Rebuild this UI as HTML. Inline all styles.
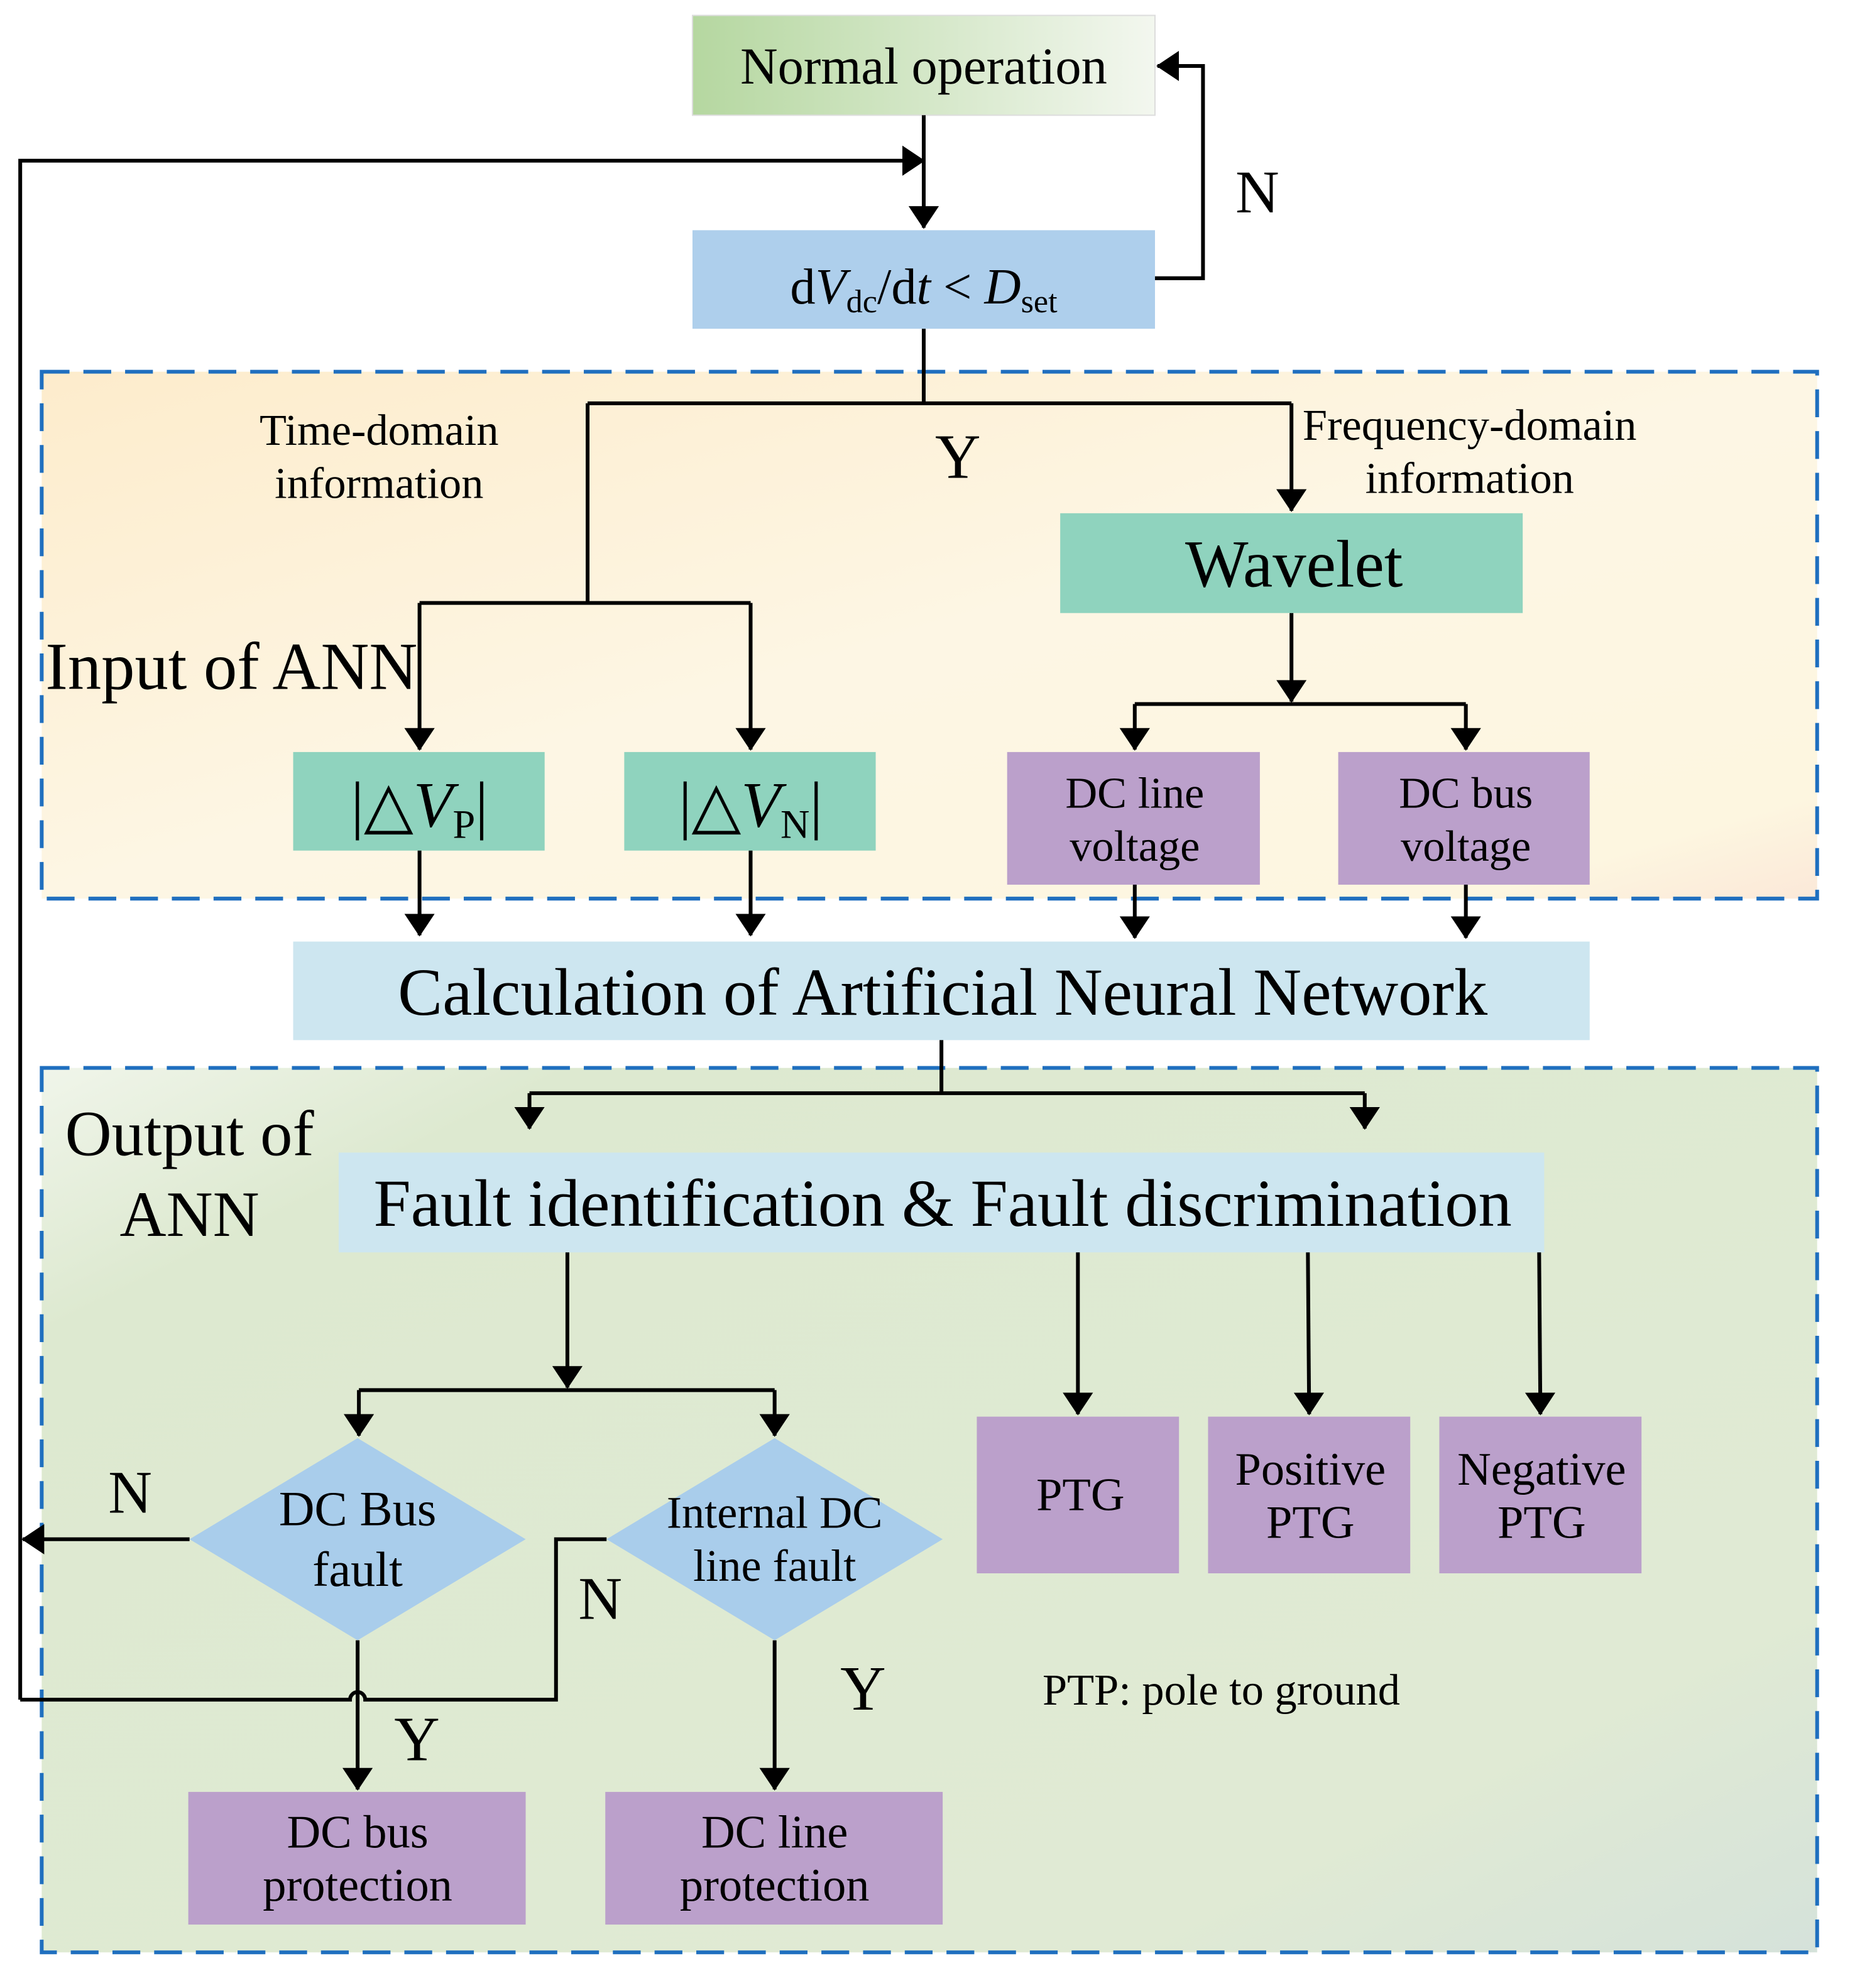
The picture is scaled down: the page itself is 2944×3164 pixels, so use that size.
<!DOCTYPE html>
<html><head><meta charset="utf-8"><style>html,body{margin:0;padding:0;background:#fff}svg{display:block}text{font-family:"Liberation Serif",serif;fill:#000}</style></head><body>
<svg width="2944" height="3164" viewBox="0 0 1464 1573" xmlns="http://www.w3.org/2000/svg">
<defs>
<linearGradient id="gN" x1="0" y1="0" x2="1" y2="0"><stop offset="0" stop-color="#b5d7a0"/><stop offset="1" stop-color="#f3f7ef"/></linearGradient>
<linearGradient id="gI" x1="0" y1="0" x2="1" y2="1"><stop offset="0" stop-color="#fdeccc"/><stop offset="0.5" stop-color="#fdf6e4"/><stop offset="0.9" stop-color="#fdf6e0"/><stop offset="1" stop-color="#fbe8d8"/></linearGradient>
<linearGradient id="gO" x1="0" y1="0" x2="1" y2="1"><stop offset="0" stop-color="#f0f5ea"/><stop offset="0.15" stop-color="#dde9d0"/><stop offset="0.8" stop-color="#e0ead4"/><stop offset="1" stop-color="#d5e2da"/></linearGradient>
<marker id="b" markerWidth="18" markerHeight="24" refX="17" refY="12" orient="auto" markerUnits="userSpaceOnUse" viewBox="0 0 18 24"><path d="M0,0 L18,12 L0,24 z" fill="#000"/></marker>
</defs>
<g stroke="#1f6fbf" stroke-width="3" stroke-dasharray="22 11">
<rect x="33" y="294" width="1405" height="417" fill="url(#gI)"/>
<rect x="33" y="845" width="1405" height="700" fill="url(#gO)"/>
</g>
<rect x="548" y="12" width="366" height="79" fill="url(#gN)" stroke="#ddd"/>
<rect x="548" y="182" width="366" height="78" fill="#aecfec"/>
<rect x="839" y="406" width="366" height="79" fill="#8fd3be"/>
<rect x="232" y="595" width="199" height="78" fill="#8fd3be"/>
<rect x="494" y="595" width="199" height="78" fill="#8fd3be"/>
<rect x="797" y="595" width="200" height="105" fill="#bba0cb"/>
<rect x="1059" y="595" width="199" height="105" fill="#bba0cb"/>
<rect x="232" y="745" width="1026" height="78" fill="#cde6f0"/>
<rect x="268" y="912" width="954" height="79" fill="#cde6f0"/>
<rect x="773" y="1121" width="160" height="124" fill="#bba0cb"/>
<rect x="956" y="1121" width="160" height="124" fill="#bba0cb"/>
<rect x="1139" y="1121" width="160" height="124" fill="#bba0cb"/>
<rect x="149" y="1418" width="267" height="105" fill="#bba0cb"/>
<rect x="479" y="1418" width="267" height="105" fill="#bba0cb"/>
<path d="M283,1138 L416,1218 L283,1298 L150,1218 z" fill="#a9cdeb"/>
<path d="M613,1138 L746,1218 L613,1298 L480,1218 z" fill="#a9cdeb"/>
<g stroke="#000" stroke-width="3" fill="none">
<path d="M731,91 V180" marker-end="url(#b)"/>
<path d="M16,1345 V127 H731" marker-end="url(#b)"/>
<path d="M914,220 H952 V52 H916" marker-end="url(#b)"/>
<path d="M731,260 V319 M465,319 H1022"/>
<path d="M1022,319 V404" marker-end="url(#b)"/>
<path d="M465,319 V477 M332,477 H594"/>
<path d="M332,477 V593" marker-end="url(#b)"/>
<path d="M594,477 V593" marker-end="url(#b)"/>
<path d="M1022,485 V555" marker-end="url(#b)"/>
<path d="M898,557 H1160"/>
<path d="M898,557 V593" marker-end="url(#b)"/>
<path d="M1160,557 V593" marker-end="url(#b)"/>
<path d="M332,673 V740" marker-end="url(#b)"/>
<path d="M594,673 V740" marker-end="url(#b)"/>
<path d="M898,700 V742" marker-end="url(#b)"/>
<path d="M1160,700 V742" marker-end="url(#b)"/>
<path d="M745,823 V865 M419,865 H1080"/>
<path d="M419,865 V893" marker-end="url(#b)"/>
<path d="M1080,865 V893" marker-end="url(#b)"/>
<path d="M449,991 V1098" marker-end="url(#b)"/>
<path d="M284,1100 H613"/>
<path d="M284,1100 V1136" marker-end="url(#b)"/>
<path d="M613,1100 V1136" marker-end="url(#b)"/>
<path d="M853,991 V1119" marker-end="url(#b)"/>
<path d="M1035,991 L1036,1119" marker-end="url(#b)"/>
<path d="M1218,991 L1219,1119" marker-end="url(#b)"/>
<path d="M150,1218 H18" marker-end="url(#b)"/>
<path d="M16,1345 H277 A6,6 0 0 1 289,1345 H440 V1218 H480"/>
<path d="M283,1298 V1416" marker-end="url(#b)"/>
<path d="M613,1298 V1416" marker-end="url(#b)"/>
</g>
<g text-anchor="middle">
<text x="731" y="66" font-size="41">Normal operation</text>
<text x="731" y="240" font-size="40">d<tspan font-style="italic">V</tspan><tspan font-size="26" dy="7">dc</tspan><tspan dy="-7">/d</tspan><tspan font-style="italic">t</tspan> &lt; <tspan font-style="italic">D</tspan><tspan font-size="26" dy="7">set</tspan></text>
<text x="995" y="168" font-size="48">N</text>
<text x="758" y="378" font-size="50">Y</text>
<text x="300" y="352" font-size="35">Time-domain</text>
<text x="300" y="394" font-size="35">information</text>
<text x="1163" y="348" font-size="35">Frequency-domain</text>
<text x="1163" y="390" font-size="35">information</text>
<text x="1024" y="464" font-size="53">Wavelet</text>
<text x="36" y="545" font-size="53" text-anchor="start">Input of ANN</text>
<text x="332" y="654" font-size="51">|△<tspan font-style="italic">V</tspan><tspan font-size="32" dy="9">P</tspan><tspan dy="-9">|</tspan></text>
<text x="594" y="654" font-size="51">|△<tspan font-style="italic">V</tspan><tspan font-size="32" dy="9">N</tspan><tspan dy="-9">|</tspan></text>
<text x="898" y="639" font-size="35">DC line</text>
<text x="898" y="681" font-size="35">voltage</text>
<text x="1160" y="639" font-size="35">DC bus</text>
<text x="1160" y="681" font-size="35">voltage</text>
<text x="746" y="803" font-size="53">Calculation of Artificial Neural Network</text>
<text x="150" y="914" font-size="51">Output of</text>
<text x="150" y="978" font-size="51">ANN</text>
<text x="746" y="970" font-size="53">Fault identification &amp; Fault discrimination</text>
<text x="855" y="1195" font-size="37">PTG</text>
<text x="1037" y="1175" font-size="37">Positive</text>
<text x="1037" y="1217" font-size="37">PTG</text>
<text x="1220" y="1175" font-size="37">Negative</text>
<text x="1220" y="1217" font-size="37">PTG</text>
<text x="283" y="1207" font-size="39">DC Bus</text>
<text x="283" y="1255" font-size="39">fault</text>
<text x="613" y="1209" font-size="36">Internal DC</text>
<text x="613" y="1251" font-size="36">line fault</text>
<text x="103" y="1197" font-size="48">N</text>
<text x="475" y="1281" font-size="48">N</text>
<text x="330" y="1393" font-size="50">Y</text>
<text x="683" y="1353" font-size="50">Y</text>
<text x="825" y="1349" font-size="35" text-anchor="start">PTP: pole to ground</text>
<text x="283" y="1462" font-size="37">DC bus</text>
<text x="283" y="1504" font-size="37">protection</text>
<text x="613" y="1462" font-size="37">DC line</text>
<text x="613" y="1504" font-size="37">protection</text>
</g>
</svg>
</body></html>
